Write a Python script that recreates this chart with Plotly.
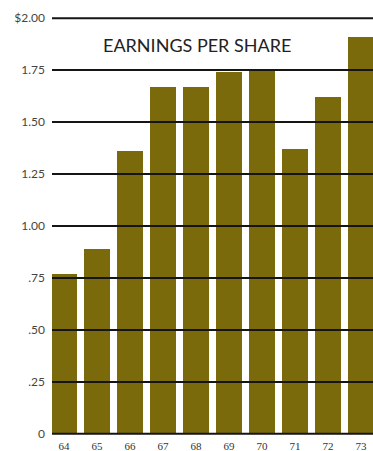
import plotly.graph_objects as go

# Earnings per share by fiscal year, 1964-1973
years = [64, 65, 66, 67, 68, 69, 70, 71, 72, 73]
eps = [0.77, 0.89, 1.36, 1.67, 1.67, 1.74, 1.75, 1.37, 1.62, 1.91]

tick_vals = [0, 0.25, 0.50, 0.75, 1.00, 1.25, 1.50, 1.75, 2.00]
tick_text = ["0", ".25", ".50", ".75", "1.00", "1.25", "1.50", "1.75", "$2.00"]

bar_color = "#7b6a0c"

fig = go.Figure(
    go.Bar(
        x=years,
        y=eps,
        width=0.76,
        marker=dict(color=bar_color, line=dict(width=0)),
        hoverinfo="x+y",
    )
)

# Rules across the chart at every tick, drawn over the bars
for v in tick_vals:
    fig.add_shape(
        type="line", xref="paper", yref="y",
        x0=0, x1=1, y0=v, y1=v,
        line=dict(color="#151515", width=2),
        layer="above",
    )

fig.add_annotation(
    text="EARNINGS PER SHARE",
    xref="paper", yref="paper",
    x=0.452, y=0.927,
    xanchor="center", yanchor="middle",
    showarrow=False,
    font=dict(family="Lato", size=18, color="#222222"),
)

fig.update_layout(
    width=373,
    height=451,
    margin=dict(l=52, r=0, t=14, b=13),
    paper_bgcolor="white",
    plot_bgcolor="white",
    showlegend=False,
    bargap=0,
)

fig.update_xaxes(
    range=[63.636, 73.364],
    tickmode="array",
    tickvals=years,
    ticktext=[str(y) for y in years],
    showgrid=False,
    zeroline=False,
    showline=False,
    ticks="",
    automargin=False,
    tickfont=dict(family="Liberation Serif", size=11, color="#333333"),
)

fig.update_yaxes(
    range=[-0.02, 2.02],
    tickmode="array",
    tickvals=tick_vals,
    ticktext=tick_text,
    showgrid=False,
    zeroline=False,
    showline=False,
    ticks="",
    ticklabelstandoff=6,
    automargin=False,
    tickfont=dict(family="Lato", size=12, color="#444444"),
)

fig.write_html("out.html")
